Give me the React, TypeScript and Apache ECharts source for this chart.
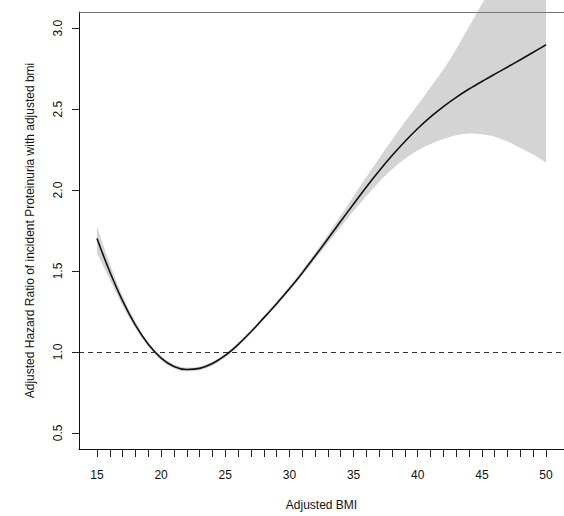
import React, { useEffect, useRef } from "react";
import * as echarts from "echarts";

// Adjusted BMI grid
const bmi = [15, 16, 17, 18, 19, 20, 21, 22, 23, 24, 25, 26, 27, 28, 29, 30, 31, 32, 33, 34, 35, 36, 37, 38, 39, 40, 41, 42, 43, 44, 45, 46, 47, 48, 49, 50];
// Adjusted hazard ratio (spline fit)
const hr = [1.7, 1.495, 1.315, 1.165, 1.047, 0.962, 0.91, 0.891, 0.898, 0.928, 0.978, 1.045, 1.124, 1.21, 1.298, 1.39, 1.488, 1.592, 1.699, 1.807, 1.914, 2.019, 2.119, 2.213, 2.3, 2.38, 2.452, 2.516, 2.573, 2.624, 2.671, 2.716, 2.76, 2.805, 2.851, 2.898];
// 95% confidence band
const lower = [1.61, 1.445, 1.285, 1.145, 1.035, 0.95, 0.898, 0.879, 0.886, 0.916, 0.966, 1.033, 1.112, 1.198, 1.285, 1.376, 1.472, 1.572, 1.674, 1.772, 1.87, 1.963, 2.05, 2.128, 2.193, 2.245, 2.285, 2.315, 2.338, 2.35, 2.345, 2.33, 2.3, 2.26, 2.22, 2.17];
const upper = [1.775, 1.545, 1.345, 1.185, 1.059, 0.974, 0.922, 0.903, 0.91, 0.94, 0.99, 1.057, 1.136, 1.222, 1.311, 1.405, 1.505, 1.612, 1.724, 1.842, 1.962, 2.08, 2.196, 2.31, 2.42, 2.525, 2.635, 2.745, 2.87, 3.01, 3.15, 3.29, 3.43, 3.57, 3.71, 3.85];

const xLabelTicks = [15, 20, 25, 30, 35, 40, 45, 50];
const xMinorTicks = [15, 16, 17, 18, 19, 20, 21, 22, 23, 24, 25, 26, 27, 28, 29, 30, 31, 32, 33, 34, 35, 36, 37, 38, 39, 40, 41, 42, 43, 44, 45, 46, 47, 48, 49, 50];
const yTicks = [0.5, 1.0, 1.5, 2.0, 2.5, 3.0];
const referenceHR = 1.0;

const xTitle = "Adjusted BMI";
const yTitle = "Adjusted Hazard Ratio of incident Proteinuria with adjusted bmi";

const FONT = "'Liberation Sans', Arial, sans-serif";

export default function App() {
  const ref = useRef<HTMLDivElement>(null);

  useEffect(() => {
    if (!ref.current) return;
    const chart = echarts.init(ref.current, undefined, { renderer: "svg" });
    const xMin = 13.6;
    const xMax = 51.4;
    const smooth = 0.35;
    const option: any = {
      animation: false,
      backgroundColor: "#ffffff",
      grid: { left: 79, top: 12, width: 490.5, height: 444, containLabel: false },
      xAxis: [
        {
          type: "value",
          min: xMin,
          max: xMax,
          position: "bottom",
          z: 10,
          name: xTitle,
          nameLocation: "middle",
          nameGap: 50,
          nameTextStyle: { fontFamily: FONT, fontSize: 12, color: "#111" },
          axisLine: { show: true, onZero: false, lineStyle: { color: "#111", width: 1 } },
          axisTick: { show: true, customValues: xMinorTicks, length: 8, lineStyle: { color: "#222", width: 1 } },
          axisLabel: {
            show: true,
            customValues: xLabelTicks,
            margin: 20,
            fontFamily: FONT,
            fontSize: 12,
            color: "#111",
          },
          splitLine: { show: false },
        },
        {
          type: "value",
          min: xMin,
          max: xMax,
          position: "top",
          z: 10,
          axisLine: { show: true, onZero: false, lineStyle: { color: "#777", width: 1 } },
          axisTick: { show: false },
          axisLabel: { show: false },
          splitLine: { show: false },
        },
      ],
      yAxis: {
        type: "value",
        min: 0.4,
        max: 3.1,
        z: 10,
        name: yTitle,
        nameLocation: "middle",
        nameGap: 43,
        nameTextStyle: { fontFamily: FONT, fontSize: 12, color: "#111" },
        axisLine: { show: true, onZero: false, lineStyle: { color: "#111", width: 1 } },
        axisTick: { show: true, customValues: yTicks, length: 7, lineStyle: { color: "#222", width: 1 } },
        axisLabel: {
          show: true,
          customValues: yTicks,
          rotate: 90,
          margin: 15,
          fontFamily: FONT,
          fontSize: 12,
          color: "#111",
          formatter: (v: number) => v.toFixed(1),
        },
        splitLine: { show: false },
      },
      series: [
        {
          type: "line",
          name: "upper",
          xAxisIndex: 0,
          data: bmi.map((x, i) => [x, upper[i]]),
          smooth,
          symbol: "none",
          lineStyle: { opacity: 0 },
          areaStyle: { color: "#d4d4d4", opacity: 1, origin: "start" },
          silent: true,
          clip: false,
          z: 1,
        },
        {
          type: "line",
          name: "lower",
          xAxisIndex: 0,
          data: bmi.map((x, i) => [x, lower[i]]),
          smooth,
          symbol: "none",
          lineStyle: { opacity: 0 },
          areaStyle: { color: "#ffffff", opacity: 1, origin: "start" },
          silent: true,
          z: 2,
        },
        {
          type: "line",
          name: "reference",
          xAxisIndex: 0,
          data: [],
          symbol: "none",
          silent: true,
          z: 3,
          markLine: {
            silent: true,
            symbol: ["none", "none"],
            label: { show: false },
            lineStyle: { type: [5, 4], color: "#333", width: 1 },
            data: [{ yAxis: referenceHR }],
          },
        },
        {
          type: "line",
          name: "hr",
          xAxisIndex: 0,
          data: bmi.map((x, i) => [x, hr[i]]),
          smooth,
          symbol: "none",
          lineStyle: { color: "#111", width: 1.6 },
          silent: true,
          z: 4,
        },
      ],
    };
    chart.setOption(option);
    return () => chart.dispose();
  }, []);

  return (
    <div
      ref={ref}
      style={{ position: "fixed", left: 0, top: 0, width: 564, height: 516, background: "#fff" }}
    />
  );
}
